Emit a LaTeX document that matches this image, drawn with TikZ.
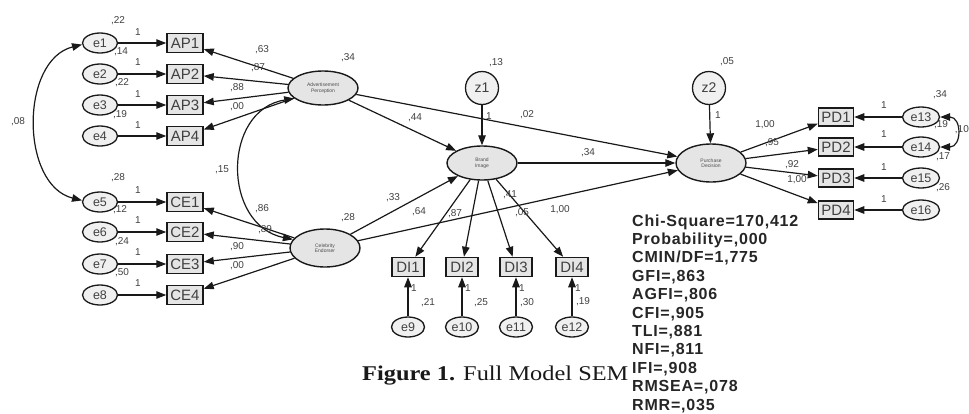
\documentclass[tikz,border=0pt]{standalone}
\usepackage{fontspec}
\setmainfont{Liberation Sans}
\newfontfamily\capfont[FakeStretch=1.16]{Liberation Serif}
\newfontfamily\statfont[LetterSpace=5]{Liberation Sans}
\usetikzlibrary{arrows.meta,shapes.geometric}
\tikzset{
 lat/.style={ellipse, draw=black!90, line width=1.4pt, fill=black!10, minimum width=70pt, minimum height=34pt, inner sep=0pt, align=center, font=\fontsize{5}{5.5}\selectfont, text=black!70},
 err/.style={ellipse, draw=black!90, line width=1.3pt, fill=black!6, minimum width=35pt, minimum height=20pt, inner sep=0pt, font=\fontsize{12.5}{12.5}\selectfont, text=black!75},
 obs/.style={rectangle, draw=black!90, line width=1.5pt, fill=black!10, minimum width=36pt, minimum height=19pt, inner sep=0pt, font=\fontsize{15}{15}\selectfont, text=black!75},
 dist/.style={circle, draw=black!90, line width=1.3pt, fill=black!6, minimum size=33pt, inner sep=0pt, font=\fontsize{14}{14}\selectfont, text=black!75},
 lbl/.style={inner sep=0pt, font=\fontsize{10}{10}\selectfont, text=black!75},
 arr/.style={-{Triangle[length=10pt,width=7.5pt]}, line width=1.2pt, draw=black!90},
 cov/.style={{Triangle[length=10pt,width=7.5pt]}-{Triangle[length=10pt,width=7.5pt]}, line width=1.2pt, draw=black!90},
 stat/.style={anchor=base west, inner sep=0pt, font=\statfont\bfseries\fontsize{16}{16}\selectfont, text=black!85},
}
\begin{document}
\begin{tikzpicture}[x=1pt,y=-1pt]
\useasboundingbox (0,0) rectangle (969,413);
% error terms and indicators, left
\foreach \n/\y in {1/43,2/74,3/105,4/136}{
  \node[err] (e\n) at (100,\y) {e\n};
  \node[obs] (AP\n) at (185,\y) {AP\n};
  \draw[arr] (e\n) -- (AP\n);
}
\foreach \n/\m/\y in {5/1/202,6/2/232,7/3/264,8/4/295}{
  \node[err] (e\n) at (100,\y) {e\n};
  \node[obs] (CE\m) at (185,\y) {CE\m};
  \draw[arr] (e\n) -- (CE\m);
}
% latent variables
\node[lat] (AP) at (323,88) {Advertisement\\Perception};
\node[lat, minimum height=38pt] (CE) at (325,248) {Celebrity\\Endorser};
\node[lat] (BI) at (482,163) {Brand\\Image};
\node[lat, minimum height=38pt] (PD) at (711,163) {Purchase\\Decision};
\node[dist] (z1) at (482,88) {z1};
\node[dist] (z2) at (709,88) {z2};
% indicators of brand image
\foreach \n/\m/\x in {1/9/408,2/10/462,3/11/516,4/12/572}{
  \node[obs, minimum width=32pt] (DI\n) at (\x,267) {DI\n};
  \node[err, minimum width=33pt] (e\m) at (\x,327) {e\m};
  \draw[arr] (e\m) -- (DI\n);
  \draw[arr] (BI) -- (DI\n);
}
% indicators of purchase decision
\foreach \n/\m/\y in {1/13/117,2/14/147,3/15/178,4/16/210}{
  \node[obs, minimum width=35pt, minimum height=18pt] (PD\n) at (836,\y) {PD\n};
  \node[err, minimum width=37pt] (e\m) at (921,\y) {e\m};
  \draw[arr] (e\m) -- (PD\n);
  \draw[arr] (PD) -- (PD\n);
}
\foreach \n in {1,...,4}{
  \draw[arr] (AP) -- (AP\n);
  \draw[arr] (CE) -- (CE\n);
}
% structural paths
\draw[arr] (AP) -- (BI);
\draw[arr] (AP) -- (PD);
\draw[arr] (CE) -- (BI);
\draw[arr] (CE) -- (PD);
\draw[arr] (BI) -- (PD);
\draw[arr] (z1) -- (BI);
\draw[arr] (z2) -- (PD);
% covariances
\draw[cov] (e1.185) .. controls (20,60) and (20,185) .. (e5.175);
\draw[cov] (AP.200) .. controls (222,110) and (222,225) .. (CE.165);
\draw[cov] (e13.east) .. controls (962,117) and (962,147) .. (e14.east);
% labels left
\node[lbl] (l1) at (118,21) {,22};
\node[lbl] (l2) at (121,52) {,14};
\node[lbl] (l3) at (122,83) {,22};
\node[lbl] (l4) at (120,115) {,19};
\node[lbl] (l5) at (138,32) {1};
\node[lbl] (l6) at (138,62) {1};
\node[lbl] (l7) at (138,94) {1};
\node[lbl] (l8) at (138,125) {1};
\node[lbl] (l9) at (18,122) {,08};
\node[lbl] (l10) at (262,50) {,63};
\node[lbl] (l11) at (258,68) {,87};
\node[lbl] (l12) at (237,88) {,88};
\node[lbl] (l13) at (237,107) {,00};
\node[lbl] (l14) at (348,58) {,34};
\node[lbl] (l15) at (415,118) {,44};
\node[lbl] (l16) at (222,170) {,15};
\node[lbl] (l17) at (262,209) {,86};
\node[lbl] (l18) at (265,230) {,89};
\node[lbl] (l19) at (237,247) {,90};
\node[lbl] (l20) at (237,266) {,00};
\node[lbl] (l21) at (348,218) {,28};
\node[lbl] (l22) at (118,178) {,28};
\node[lbl] (l23) at (120,210) {,12};
\node[lbl] (l24) at (122,242) {,24};
\node[lbl] (l25) at (122,273) {,50};
\node[lbl] (l26) at (138,190) {1};
\node[lbl] (l27) at (138,220) {1};
\node[lbl] (l28) at (138,252) {1};
\node[lbl] (l29) at (138,283) {1};
% labels middle
\node[lbl] (l30) at (496,63) {,13};
\node[lbl] (l31) at (489,116) {1};
\node[lbl] (l32) at (527,115) {,02};
\node[lbl] (l33) at (588,153) {,34};
\node[lbl] (l34) at (393,198) {,33};
\node[lbl] (l35) at (419,212) {,64};
\node[lbl] (l36) at (455,214) {,87};
\node[lbl] (l37) at (510,195) {,41};
\node[lbl] (l38) at (522,213) {,05};
\node[lbl] (l39) at (560,210) {1,00};
\node[lbl] (l40) at (414,288) {1};
\node[lbl] (l41) at (468,288) {1};
\node[lbl] (l42) at (522,288) {1};
\node[lbl] (l43) at (578,288) {1};
\node[lbl] (l44) at (428,303) {,21};
\node[lbl] (l45) at (481,303) {,25};
\node[lbl] (l46) at (527,303) {,30};
\node[lbl] (l47) at (583,302) {,19};
% labels right
\node[lbl] (l48) at (727,62) {,05};
\node[lbl] (l49) at (718,115) {1};
\node[lbl] (l50) at (765,125) {1,00};
\node[lbl] (l51) at (772,143) {,95};
\node[lbl] (l52) at (792,165) {,92};
\node[lbl] (l53) at (797,180) {1,00};
\node[lbl] (l54) at (884,105) {1};
\node[lbl] (l55) at (884,134) {1};
\node[lbl] (l56) at (884,167) {1};
\node[lbl] (l57) at (884,199) {1};
\node[lbl] (l58) at (940,95) {,34};
\node[lbl] (l59) at (941,125) {,19};
\node[lbl, anchor=east] (l60) at (969,130) {,10};
\node[lbl] (l61) at (943,157) {,17};
\node[lbl] (l62) at (943,188) {,26};
% fit statistics
\foreach \t [count=\i] in {{Chi-Square=170,412},{Probability=,000},{CMIN/DF=1,775},{GFI=,863},{AGFI=,806},{CFI=,905},{TLI=,881},{NFI=,811},{IFI=,908},{RMSEA=,078},{RMR=,035}}{
  \node[stat] (s\i) at (632,{226+18.4*(\i-1)}) {\t};
}
% caption
\node[anchor=base west, inner sep=0pt, font=\capfont\fontsize{21}{21}\selectfont, text=black!90] (cap) at (362,380) {\textbf{Figure 1.} Full Model SEM};
\end{tikzpicture}
\end{document}
